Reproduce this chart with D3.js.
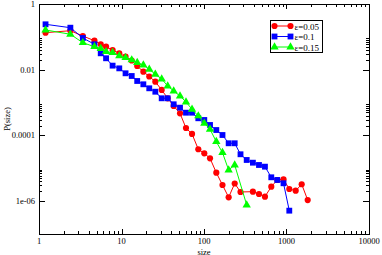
<!DOCTYPE html>
<html>
<head>
<meta charset="utf-8">
<script src="https://cdn.jsdelivr.net/npm/d3@7"></script>
<style>
  body { margin: 0; background: #fff; }
  svg { display: block; font-family: "Liberation Serif", "DejaVu Serif", serif; }
</style>
</head>
<body>
<div id="chart"></div>
<script>
// log-binned cluster sizes (shared bins)
const sizes = [1.2, 2.4, 3.4, 4.7, 5.6, 6.5, 7.8, 9.4, 11.2, 13.3, 15.5, 18.4, 21.7, 25.7, 30.7,
  36.3, 42.9, 51.2, 60.5, 71.6, 85.3, 100.8, 118.3, 141, 167.5, 199, 235.6, 277, 329.3, 391.5,
  464, 548, 654, 773, 920, 1081, 1292, 1528, 1807];

const pEps005 = [0.134, 0.154, 0.106, 0.0764, 0.0594, 0.0502, 0.0398, 0.0316, 0.0249, 0.0191,
  0.013, 0.0087, 0.00622, 0.00432, 0.00242, 0.00135, 0.00079, 0.00047, 0.000168, 0.000111,
  3.79e-5, 2.86e-5, 2.01e-5, 7.34e-6, 3.1e-6, 1.31e-6, 3.45e-6, 1.9e-6, null, 1.94e-6,
  1.65e-6, 1.37e-6, 2.75e-6, 4.41e-6, 4.62e-6, 2.34e-6, 2.08e-6, 3.26e-6, 1.08e-6];

const pEps01 = [0.241, 0.19, 0.0923, 0.0594, 0.0316, 0.0223, 0.0133, 0.011, 0.00778, 0.00644,
  0.00454, 0.0036, 0.00272, 0.00214, 0.00135, 0.00135, 0.000887, 0.000699, 0.000492, 0.000492,
  0.000333, 0.000295, 0.000208, 0.000146, 0.000103, 5.77e-5, 5.77e-5, 2.67e-5, 1.79e-5, 1.48e-5,
  1.26e-5, 1.12e-5, 5.32e-6, 4.41e-6, 3.5e-6, 5.13e-7];

const pEps015 = [0.162, 0.12, 0.0664, 0.0502, 0.0443, 0.0353, 0.033, 0.0262, 0.0232, 0.0198,
  0.0164, 0.0139, 0.0103, 0.00726, 0.00522, 0.0032, 0.00225, 0.00158, 0.00104, 0.000625,
  0.000391, 0.000234, 0.000154, 6.46e-5, 2.99e-5, 8.87e-6, 1.26e-5, null, 7.64e-7];

const seriesNames = ["\u03b5=0.05", "\u03b5=0.1", "\u03b5=0.15"];
const seriesColors = ["#ff0000", "#0000ff", "#00ff00"];
const seriesShapes = [d3.symbolCircle, d3.symbolSquare, d3.symbolTriangle];
const seriesValues = [pEps005, pEps01, pEps015];

const xTickLabels = ["1", "10", "100", "1000", "10000"];
const yTickLabels = ["1", "0.01", "0.0001", "1e-06"];

const width = 382, height = 255;
const margin = { top: 4, right: 13, bottom: 21, left: 39 };
const innerW = width - margin.left - margin.right;
const innerH = height - margin.top - margin.bottom;

const svg = d3.select("#chart").append("svg")
  .attr("width", width)
  .attr("height", height);

const x = d3.scaleLog().domain([1, 10000]).range([0, innerW]);
const y = d3.scaleLog().domain([1e-7, 1]).range([innerH, 0]);

const g = svg.append("g").attr("transform", `translate(${margin.left},${margin.top})`);

// ticks
const xMajor = [1, 10, 100, 1000, 10000];
const xMinor = [];
[1, 10, 100, 1000].forEach((d) => { for (let k = 2; k <= 9; k++) xMinor.push(d * k); });
const yMajor = [1, 1e-2, 1e-4, 1e-6];
const yMinor = [];
[1e-2, 1e-4, 1e-6].forEach((d) => { for (let k = 2; k <= 9; k++) yMinor.push(d * k); });

const ticks = g.append("g").attr("stroke", "#000").attr("stroke-width", 1);
xMajor.forEach((d) => {
  const px = Math.round(x(d)) + 0.5;
  ticks.append("line").attr("x1", px).attr("x2", px).attr("y1", innerH).attr("y2", innerH - 5);
  ticks.append("line").attr("x1", px).attr("x2", px).attr("y1", 0).attr("y2", 5);
});
xMinor.forEach((d) => {
  const px = Math.round(x(d)) + 0.5;
  ticks.append("line").attr("x1", px).attr("x2", px).attr("y1", innerH).attr("y2", innerH - 3);
  ticks.append("line").attr("x1", px).attr("x2", px).attr("y1", 0).attr("y2", 3);
});
yMajor.forEach((d) => {
  const py = Math.round(y(d)) + 0.5;
  ticks.append("line").attr("x1", 0).attr("x2", 6).attr("y1", py).attr("y2", py);
  ticks.append("line").attr("x1", innerW).attr("x2", innerW - 6).attr("y1", py).attr("y2", py);
});
yMinor.forEach((d) => {
  const py = Math.round(y(d)) + 0.5;
  ticks.append("line").attr("x1", 0).attr("x2", 3).attr("y1", py).attr("y2", py);
  ticks.append("line").attr("x1", innerW).attr("x2", innerW - 3).attr("y1", py).attr("y2", py);
});

// frame
g.append("rect")
  .attr("x", 0.5).attr("y", 0.5)
  .attr("width", innerW).attr("height", innerH)
  .attr("fill", "none").attr("stroke", "#000").attr("stroke-width", 1);

// tick labels
g.selectAll(".xlab").data(xMajor).join("text")
  .attr("class", "xlab")
  .attr("x", (d) => x(d))
  .attr("y", innerH + 10)
  .attr("text-anchor", "middle")
  .attr("font-size", 8.5)
  .text((d, i) => xTickLabels[i]);

g.selectAll(".ylab").data(yMajor).join("text")
  .attr("class", "ylab")
  .attr("x", -4)
  .attr("y", (d) => y(d) + 3)
  .attr("text-anchor", "end")
  .attr("font-size", 8.5)
  .text((d, i) => yTickLabels[i]);

// axis titles
svg.append("text")
  .attr("x", margin.left + innerW / 2)
  .attr("y", 254.5)
  .attr("text-anchor", "middle")
  .attr("font-size", 8.5)
  .text("size");

svg.append("text")
  .attr("transform", `translate(10,${margin.top + innerH / 2}) rotate(-90)`)
  .attr("text-anchor", "middle")
  .attr("font-size", 8.5)
  .text("P(size)");

// series
const symbolSizes = [30, 34, 30];
seriesValues.forEach((vals, si) => {
  const pts = vals.map((v, i) => ({ s: sizes[i], p: v })).filter((d) => d.p != null);
  const line = d3.line().x((d) => x(d.s)).y((d) => y(d.p));
  g.append("path")
    .datum(pts)
    .attr("d", line)
    .attr("fill", "none")
    .attr("stroke", seriesColors[si])
    .attr("stroke-width", 1);
  g.append("g").selectAll("path").data(pts).join("path")
    .attr("transform", (d) => `translate(${x(d.s)},${y(d.p)})`)
    .attr("d", d3.symbol().type(seriesShapes[si]).size(symbolSizes[si]))
    .attr("fill", seriesColors[si]);
});

// legend
const legend = svg.append("g").attr("transform", "translate(270.5,20.5)");
legend.append("rect")
  .attr("width", 52).attr("height", 32)
  .attr("fill", "#fff").attr("stroke", "#000").attr("stroke-width", 1);
seriesNames.forEach((name, i) => {
  const ly = 5.5 + i * 10.5;
  const row = legend.append("g").attr("transform", `translate(0,${ly})`);
  row.append("line").attr("x1", 4).attr("x2", 20).attr("y1", 0).attr("y2", 0)
    .attr("stroke", seriesColors[i]).attr("stroke-width", 1);
  [4, 20].forEach((lx) => {
    row.append("path")
      .attr("transform", `translate(${lx},0)`)
      .attr("d", d3.symbol().type(seriesShapes[i]).size(symbolSizes[i]))
      .attr("fill", seriesColors[i]);
  });
  row.append("text").attr("x", 24).attr("y", 3.5)
    .attr("font-size", 9).text(name);
});
</script>
</body>
</html>
